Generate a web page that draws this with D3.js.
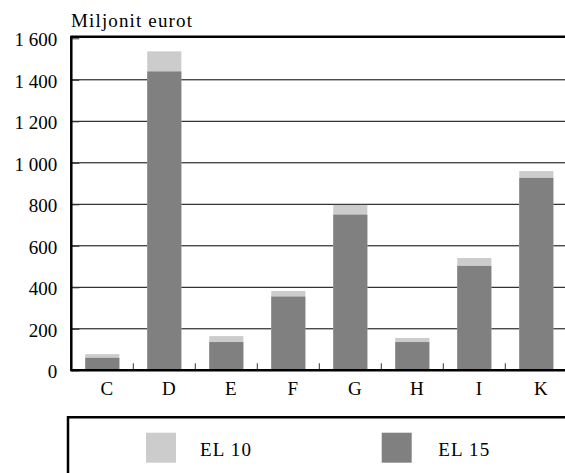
<!DOCTYPE html>
<html><head><meta charset="utf-8">
<script src="https://cdn.jsdelivr.net/npm/d3@7"></script>
<style>
html,body{margin:0;padding:0;background:#fff;overflow:hidden}
svg text{font-family:"Liberation Serif","Times New Roman",serif !important;fill:#000}
</style></head>
<body>
<svg id="c" width="565" height="473"></svg>
<script>
const categories = ["C","D","E","F","G","H","I","K"];
const el10 = [78, 1537, 165, 382, 797, 156, 541, 960];
const el15 = [60, 1440, 136, 355, 750, 136, 503, 927];
const yTicks = [0,200,400,600,800,1000,1200,1400,1600];
const seriesNames = ["EL 10","EL 15"];
const colors = ["#cccccc","#808080"];

const svg = d3.select("#c");
const L = 71.3, R = 567.3, T = 38.3, B = 370.3;
const x = d3.scaleBand().domain(categories).range([L,R]).paddingInner(0.45).paddingOuter(0.225);
const y = d3.scaleLinear().domain([0,1600]).range([B,T]);
const fmt = v => d3.format(",")(v).replace(",", "\u00a0");
const FONT = '"Liberation Serif","Times New Roman",serif';

// gridlines
svg.append("g").selectAll("line").data(yTicks.slice(1,-1)).join("line")
  .attr("x1",L).attr("x2",R).attr("y1",d=>y(d)).attr("y2",d=>y(d))
  .attr("stroke","#000").attr("stroke-width",1);

// bars
svg.append("g").selectAll("rect").data(categories).join("rect")
  .attr("x",d=>x(d)).attr("width",x.bandwidth())
  .attr("y",(d,i)=>y(el10[i])).attr("height",(d,i)=>B-y(el10[i]))
  .attr("fill",colors[0]);
svg.append("g").selectAll("rect").data(categories).join("rect")
  .attr("x",d=>x(d)).attr("width",x.bandwidth())
  .attr("y",(d,i)=>y(el15[i])).attr("height",(d,i)=>B-y(el15[i]))
  .attr("fill",colors[1]);

// y axis
const ya = svg.append("g").attr("transform",`translate(${L},0)`)
  .call(d3.axisLeft(y).tickValues(yTicks).tickFormat(fmt).tickSizeInner(-8).tickSizeOuter(0).tickPadding(14));
ya.attr("font-family",null).attr("font-size",null);
ya.select(".domain").remove();
ya.selectAll(".tick line").attr("stroke","#333");
ya.selectAll("text").style("font-family",FONT).style("font-size","19px").attr("dy","0.4em");

// x tick marks between categories
const bounds = categories.slice(0,-1).map(c => x(c)+x.bandwidth()+x.step()*x.paddingInner()/2);
svg.append("g").selectAll("line").data(bounds).join("line")
  .attr("x1",d=>d).attr("x2",d=>d).attr("y1",B).attr("y2",B-7)
  .attr("stroke","#333").attr("stroke-width",1);

// x labels
svg.append("g").selectAll("text").data(categories).join("text")
  .attr("x",d=>x(d)+x.bandwidth()/2 + 4.5).attr("y",395)
  .attr("text-anchor","middle").style("font-family",FONT).style("font-size","19px").text(d=>d);

// frame lines
svg.append("line").attr("x1",L).attr("x2",R).attr("y1",y(1600)-1.5).attr("y2",y(1600)-1.5).attr("stroke","#000").attr("stroke-width",2.5);
svg.append("line").attr("x1",L).attr("x2",R).attr("y1",B).attr("y2",B).attr("stroke","#000").attr("stroke-width",2.5);
svg.append("line").attr("x1",L).attr("x2",L).attr("y1",y(1600)-2.5).attr("y2",B+1).attr("stroke","#000").attr("stroke-width",2.5);

// title
svg.append("text").attr("x",71).attr("y",26.5).style("font-family",FONT).style("font-size","19px")
  .attr("textLength",121).attr("lengthAdjust","spacing").text("Miljonit eurot");

// legend
const lg = svg.append("g");
lg.append("path").attr("d","M68,473 V417.3 H566").attr("fill","none").attr("stroke","#000").attr("stroke-width",2.5);
const lx = [146, 381.7];
const tx = [200, 438.3];
seriesNames.forEach((n,i)=>{
  lg.append("rect").attr("x",lx[i]).attr("y",432.7).attr("width",30).attr("height",30).attr("fill",colors[i]);
  lg.append("text").attr("x",tx[i]).attr("y",456).style("font-family",FONT).style("font-size","19px")
    .attr("textLength",51).attr("lengthAdjust","spacing").text(n);
});
</script>
</body></html>
